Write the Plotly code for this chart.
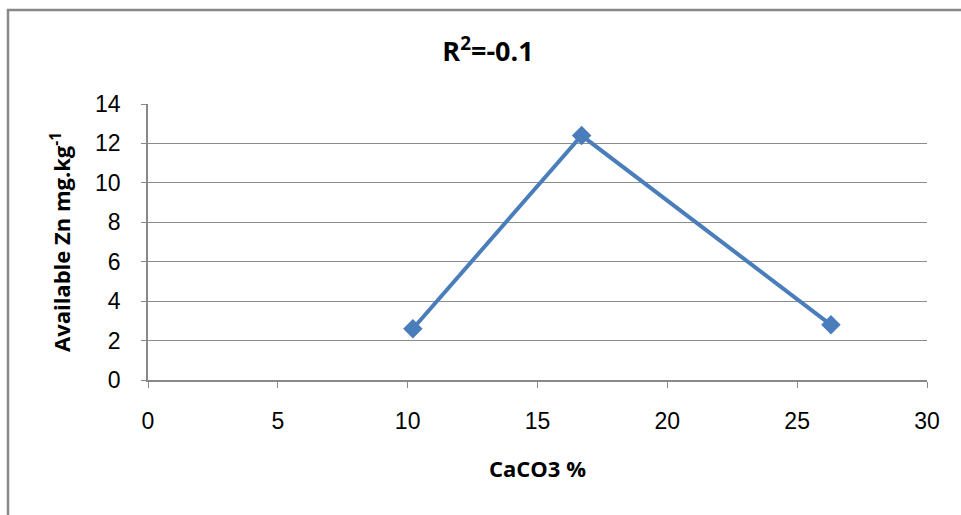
import plotly.graph_objects as go

caco3 = [10.2, 16.7, 26.3]
zn = [2.6, 12.4, 2.8]
x_ticks = [0, 5, 10, 15, 20, 25, 30]
y_ticks = [0, 2, 4, 6, 8, 10, 12, 14]

W, H = 961, 515
L, R, T, B = 148, 34, 104, 135
pw, ph = W - L - R, H - T - B

fig = go.Figure()
fig.add_trace(go.Scatter(
    x=caco3, y=zn, mode="lines+markers",
    line=dict(color="#4A7EBB", width=4),
    marker=dict(symbol="diamond", size=15, color="#4A7EBB"),
    showlegend=False,
))

fig.update_layout(
    width=W, height=H,
    margin=dict(l=L, r=R, t=T, b=B),
    paper_bgcolor="white", plot_bgcolor="white",
    title=dict(text="<b>R<sup>2</sup>=-0.1</b>", x=(488 - L) / pw, xref="paper", xanchor="center",
               y=1 - 52 / H, yanchor="middle",
               font=dict(family="Open Sans, Liberation Sans", size=27, color="black")),
    xaxis=dict(range=[0, 30], tickvals=x_ticks, showgrid=False, zeroline=False,
               showline=True, linecolor="#888888", linewidth=1.5,
               ticks="outside", ticklen=6, tickcolor="#888888", ticklabelstandoff=14,
               tickfont=dict(family="Liberation Sans, Arial", size=23, color="black"),
               title=dict(text="<b>CaCO3 %</b>", standoff=28,
                          font=dict(family="Open Sans, Liberation Sans", size=22, color="black"))),
    yaxis=dict(range=[0, 14], tickvals=y_ticks, showgrid=True, gridcolor="#8c8c8c", gridwidth=1,
               zeroline=False, showline=True, linecolor="#888888", linewidth=1.5,
               ticks="outside", ticklen=5, tickcolor="#888888", ticklabelstandoff=16,
               tickfont=dict(family="Liberation Sans, Arial", size=23, color="black"),
               title=dict(text="<b>Available Zn mg.kg<sup>-1</sup></b>", standoff=18,
                          font=dict(family="Open Sans, Liberation Sans", size=22, color="black"))),
)

fig.add_shape(type="rect", xref="paper", yref="paper",
              x0=(8 - L) / pw, x1=(W + 10 - L) / pw,
              y0=-(H + 10 - T - ph) / ph, y1=1 + (T - 10) / ph,
              line=dict(color="#888888", width=2.5), fillcolor="rgba(0,0,0,0)", layer="below")

fig.write_html("out.html")
